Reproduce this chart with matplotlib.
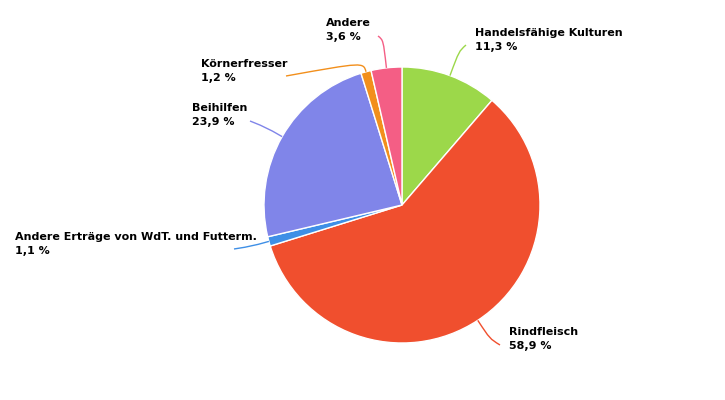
import numpy as np
import matplotlib.pyplot as plt
from matplotlib.path import Path
from matplotlib.patches import PathPatch

labels = ["Handelsfähige Kulturen", "Rindfleisch", "Andere Erträge von WdT. und Futterm.",
          "Beihilfen", "Körnerfresser", "Andere"]
values = [11.3, 58.9, 1.1, 23.9, 1.2, 3.6]
colors = ["#9cd84a", "#f04f2e", "#3e8fe6", "#8085e9", "#f28f1c", "#f45e85"]

# label text anchor (top-left, pixels) and leader line end point (pixels)
label_pos = [(475, 28), (509, 327), (15, 232), (192, 103), (201, 59), (326, 18)]
line_end = [(466, 45), (500, 345), (234, 249), (250, 121), (286, 76), (378, 36)]
ctrl_len = [26, 22, 18, 18, 10, 28]

W, H = 725, 400
cx, cy, r = 402, H - 205, 138

fig = plt.figure(figsize=(7.25, 4), dpi=100)
ax = fig.add_axes([0, 0, 1, 1])
wedges, _ = ax.pie(values, colors=colors, startangle=90, counterclock=False,
                   center=(cx, cy), radius=r,
                   wedgeprops=dict(edgecolor="white", linewidth=1))
ax.set_xlim(0, W)
ax.set_ylim(0, H)
ax.set_aspect("equal")
ax.axis("off")

for w, lab, val, col, (lx, ly), (ex, ey), cl in zip(wedges, labels, values, colors,
                                                    label_pos, line_end, ctrl_len):
    # leader line: out from the wedge middle, then bend towards the label
    mid = np.deg2rad((w.theta1 + w.theta2) / 2)
    sx, sy = cx + r * np.cos(mid), cy + r * np.sin(mid)
    qx, qy = sx + cl * np.cos(mid), sy + cl * np.sin(mid)
    path = Path([(sx, sy), (qx, qy), (qx, qy), (ex, H - ey)],
                [Path.MOVETO, Path.CURVE4, Path.CURVE4, Path.CURVE4])
    ax.add_patch(PathPatch(path, facecolor="none", edgecolor=col, lw=1))
    txt = lab + "\n" + f"{val:.1f}".replace(".", ",") + " %"
    ax.text(lx, H - ly, txt, ha="left", va="top", fontsize=8, fontweight="bold",
            color="black", linespacing=1.55)

fig.savefig("out.png", dpi=100)
